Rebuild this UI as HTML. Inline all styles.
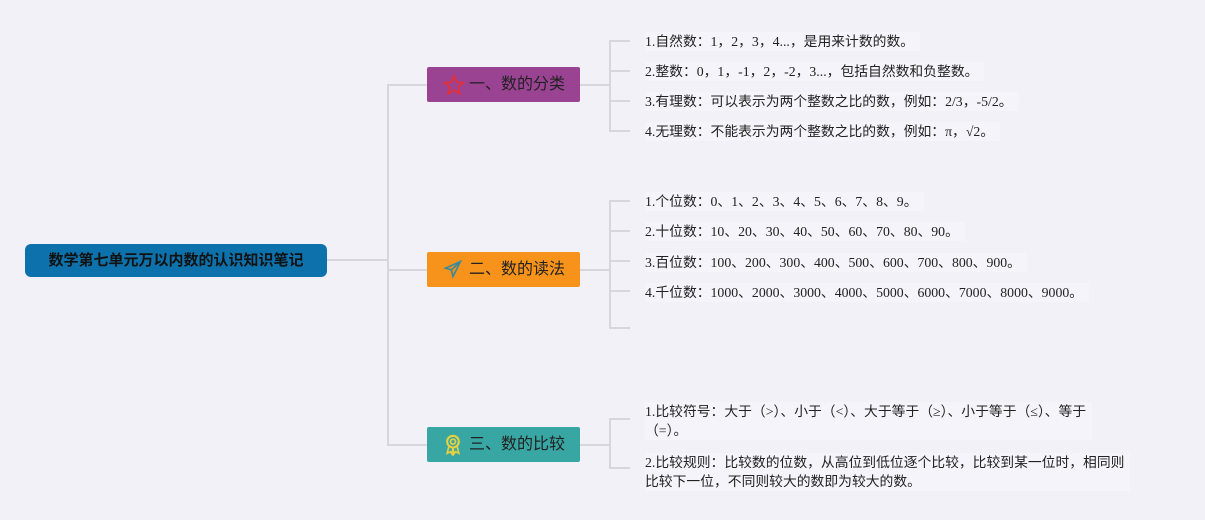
<!DOCTYPE html>
<html><head><meta charset="utf-8"><style>
body{margin:0;width:1205px;height:520px;background:#f2f1f8;position:relative;overflow:hidden;font-family:"Liberation Serif","Noto Sans CJK SC",sans-serif}
.l{position:absolute;background:#d6d6dc}
.b{position:absolute;left:427px;width:153px;height:35px;color:#222;font-size:16px;line-height:35px;font-family:"Liberation Sans","Noto Sans CJK SC",sans-serif;box-sizing:border-box;padding-left:42px;border-radius:2px}
.t{position:absolute;left:645px;font-size:13.8px;color:#222;line-height:19px;background:#f5f4fa;padding-right:6px;white-space:nowrap}
.ic{position:absolute;left:16px;top:7px}
</style></head><body>
<div style="position:absolute;left:25px;top:244px;width:302px;height:33px;background:#0d72ac;border-radius:6px;color:#111;font-weight:bold;font-size:15px;line-height:33px;text-align:center;font-family:'Liberation Sans','Noto Sans CJK SC',sans-serif">数学第七单元万以内数的认识知识笔记</div>
<div class="l" style="left:327px;top:259px;width:61px;height:2px"></div>
<div class="l" style="left:387px;top:84px;width:2px;height:362px"></div>
<div class="l" style="left:387px;top:84px;width:40px;height:2px"></div>
<div class="l" style="left:387px;top:269px;width:40px;height:2px"></div>
<div class="l" style="left:387px;top:444px;width:40px;height:2px"></div>
<div class="b" style="top:67px;background:#9b4393"><svg class="ic" width="22" height="22" viewBox="0 0 24 24"><path d="M12 2l3 7 7 .6-5.3 4.6 1.7 7.3L12 17.6 5.6 21.5l1.7-7.3L2 9.6 9 9z" fill="none" stroke="#e0303a" stroke-width="2"/></svg>一、数的分类</div>
<div class="b" style="top:252px;background:#f7931a"><svg class="ic" width="20" height="20" viewBox="0 0 24 24"><path d="M21 3L3 11l7 2 2 8z M10 13l11-10" fill="none" stroke="#3a8a9a" stroke-width="2"/></svg>二、数的读法</div>
<div class="b" style="top:427px;background:#38a6a2"><svg class="ic" width="20" height="22" viewBox="0 0 24 26"><circle cx="12" cy="9" r="7" fill="none" stroke="#e8d040" stroke-width="2.5"/><circle cx="12" cy="9" r="3" fill="none" stroke="#e8d040" stroke-width="2"/><path d="M7 15l-2 8 4-2 2 3 1-8 1 8 2-3 4 2-2-8" fill="none" stroke="#e8d040" stroke-width="2"/></svg>三、数的比较</div>
<div class="l" style="left:580px;top:84px;width:30px;height:2px"></div>
<div class="l" style="left:609px;top:40px;width:2px;height:91px"></div>
<div class="l" style="left:609px;top:40px;width:21px;height:2px"></div>
<div class="l" style="left:609px;top:70px;width:21px;height:2px"></div>
<div class="l" style="left:609px;top:100px;width:21px;height:2px"></div>
<div class="l" style="left:609px;top:130px;width:21px;height:2px"></div>
<div class="t" style="top:32px">1.自然数：1，2，3，4...，是用来计数的数。</div>
<div class="t" style="top:62px">2.整数：0，1，-1，2，-2，3...，包括自然数和负整数。</div>
<div class="t" style="top:92px">3.有理数：可以表示为两个整数之比的数，例如：2/3，-5/2。</div>
<div class="t" style="top:122px">4.无理数：不能表示为两个整数之比的数，例如：π，√2。</div>
<div class="l" style="left:580px;top:269px;width:30px;height:2px"></div>
<div class="l" style="left:609px;top:200px;width:2px;height:129px"></div>
<div class="l" style="left:609px;top:200px;width:21px;height:2px"></div>
<div class="l" style="left:609px;top:230px;width:21px;height:2px"></div>
<div class="l" style="left:609px;top:260px;width:21px;height:2px"></div>
<div class="l" style="left:609px;top:290px;width:21px;height:2px"></div>
<div class="l" style="left:609px;top:327px;width:21px;height:2px"></div>
<div class="t" style="top:192px">1.个位数：0、1、2、3、4、5、6、7、8、9。</div>
<div class="t" style="top:222px">2.十位数：10、20、30、40、50、60、70、80、90。</div>
<div class="t" style="top:253px">3.百位数：100、200、300、400、500、600、700、800、900。</div>
<div class="t" style="top:283px">4.千位数：1000、2000、3000、4000、5000、6000、7000、8000、9000。</div>
<div class="l" style="left:580px;top:444px;width:30px;height:2px"></div>
<div class="l" style="left:609px;top:418px;width:2px;height:51px"></div>
<div class="l" style="left:609px;top:418px;width:21px;height:2px"></div>
<div class="l" style="left:609px;top:467px;width:21px;height:2px"></div>
<div class="t" style="top:402px">1.比较符号：大于（>）、小于（<）、大于等于（≥）、小于等于（≤）、等于<br>（=）。</div>
<div class="t" style="top:453px">2.比较规则：比较数的位数，从高位到低位逐个比较，比较到某一位时，相同则<br>比较下一位，不同则较大的数即为较大的数。</div>
</body></html>
